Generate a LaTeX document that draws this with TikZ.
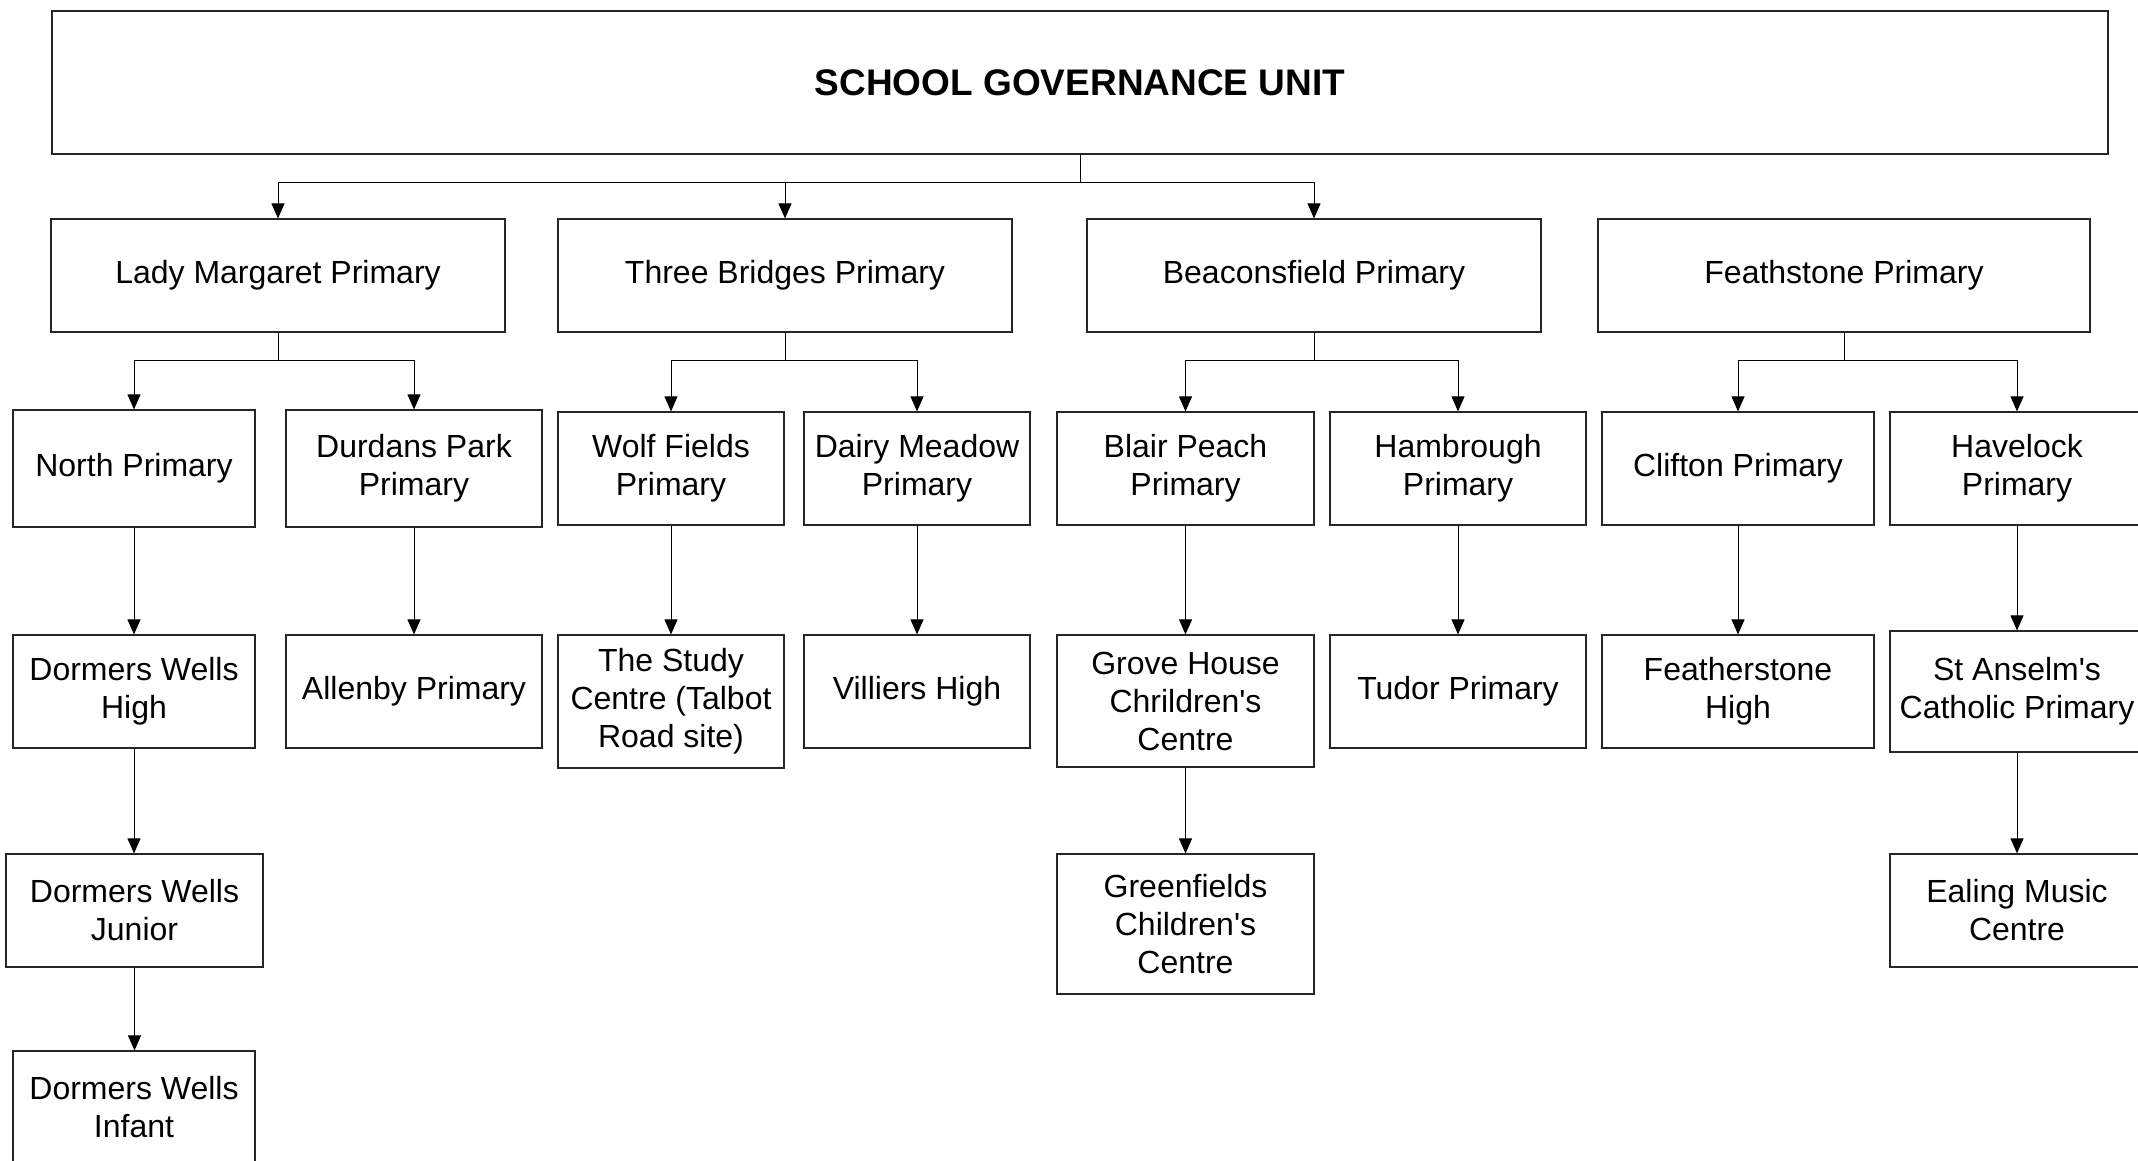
\documentclass[tikz,border=0pt]{standalone}
\usepackage{fontspec}
\setmainfont{Liberation Sans}[Ligatures=TeXOff]
\usetikzlibrary{arrows.meta}
\begin{document}
\begin{tikzpicture}[x=1pt,y=-1pt,
  box/.style={draw=black!85, line width=1.2pt, rectangle, inner sep=0pt, align=center,
    font=\fontsize{32}{38}\selectfont},
  titlebox/.style={box, font=\fontsize{37}{44}\selectfont\bfseries},
  conn/.style={draw=black, line width=1pt},
  arr/.style={conn, -{Triangle[length=15pt,width=13pt]}}]
\useasboundingbox (0,0) rectangle (2138,1161);
\clip (0,0) rectangle (2138,1161);
\fill[white] (0,0) rectangle (2138,1161);
% top
\node[titlebox, minimum width=2056pt, minimum height=143pt] (title) at (1080,82.5) {SCHOOL GOVERNANCE UNIT};
% level 1
\node[box, minimum width=454pt, minimum height=113pt] (lm) at (278,275.5) {Lady Margaret Primary};
\node[box, minimum width=454pt, minimum height=113pt] (tb) at (785,275.5) {Three Bridges Primary};
\node[box, minimum width=454pt, minimum height=113pt] (bc) at (1314,275.5) {Beaconsfield Primary};
\node[box, minimum width=492pt, minimum height=113pt] (fs) at (1844,275.5) {Feathstone Primary};
% level 2
\node[box, minimum width=242pt, minimum height=117pt] (np) at (134,468.5) {North Primary};
\node[box, minimum width=256pt, minimum height=117pt] (dp) at (414,468.5) {Durdans Park\\Primary};
\node[box, minimum width=226pt, minimum height=113pt] (wf) at (671,468.5) {Wolf Fields\\Primary};
\node[box, minimum width=226pt, minimum height=113pt] (dm) at (917,468.5) {Dairy Meadow\\Primary};
\node[box, minimum width=257pt, minimum height=113pt] (bp) at (1185.5,468.5) {Blair Peach\\Primary};
\node[box, minimum width=256pt, minimum height=113pt] (hb) at (1458,468.5) {Hambrough\\Primary};
\node[box, minimum width=272pt, minimum height=113pt] (cl) at (1738,468.5) {Clifton Primary};
\node[box, minimum width=254pt, minimum height=113pt] (hv) at (2017,468.5) {Havelock\\Primary};
% level 3
\node[box, minimum width=242pt, minimum height=113pt] (dwh) at (134,691.5) {Dormers Wells\\High};
\node[box, minimum width=256pt, minimum height=113pt] (al) at (414,691.5) {Allenby Primary};
\node[box, minimum width=226pt, minimum height=133pt] (sc) at (671,701.5) {The Study\\Centre (Talbot\\Road site)};
\node[box, minimum width=226pt, minimum height=113pt] (vh) at (917,691.5) {Villiers High};
\node[box, minimum width=257pt, minimum height=132pt] (gh) at (1185.5,701) {Grove House\\Chrildren's\\Centre};
\node[box, minimum width=256pt, minimum height=113pt] (tp) at (1458,691.5) {Tudor Primary};
\node[box, minimum width=272pt, minimum height=113pt] (fh) at (1738,691.5) {Featherstone\\High};
\node[box, minimum width=254pt, minimum height=121pt] (sa) at (2017,691.5) {St Anselm's\\Catholic Primary};
% level 4
\node[box, minimum width=257pt, minimum height=113pt] (dwj) at (134.5,910.5) {Dormers Wells\\Junior};
\node[box, minimum width=242pt, minimum height=113pt] (dwi) at (134,1107.5) {Dormers Wells\\Infant};
\node[box, minimum width=257pt, minimum height=140pt] (gf) at (1185.5,924) {Greenfields\\Children's\\Centre};
\node[box, minimum width=254pt, minimum height=113pt] (em) at (2017,910.5) {Ealing Music\\Centre};
% connectors top
\coordinate (topbar) at (1080,183);
\draw[conn] (title.south) -- (topbar);
\draw[arr] (topbar) -| (lm.north);
\draw[arr] (topbar) -| (tb.north);
\draw[arr] (topbar) -| (bc.north);
% level 1 -> 2
\coordinate (lmbar) at (278,360);
\coordinate (tbbar) at (785,360);
\coordinate (bcbar) at (1314,360);
\coordinate (fsbar) at (1844,360);
\draw[conn] (lm.south) -- (lmbar);
\draw[conn] (tb.south) -- (tbbar);
\draw[conn] (bc.south) -- (bcbar);
\draw[conn] (fs.south) -- (fsbar);
\draw[arr] (lmbar) -| (np.north);
\draw[arr] (lmbar) -| (dp.north);
\draw[arr] (tbbar) -| (wf.north);
\draw[arr] (tbbar) -| (dm.north);
\draw[arr] (bcbar) -| (bp.north);
\draw[arr] (bcbar) -| (hb.north);
\draw[arr] (fsbar) -| (cl.north);
\draw[arr] (fsbar) -| (hv.north);
% level 2 -> 3
\draw[arr] (np.south) -- (np.south |- dwh.north);
\draw[arr] (dp.south) -- (dp.south |- al.north);
\draw[arr] (wf.south) -- (wf.south |- sc.north);
\draw[arr] (dm.south) -- (dm.south |- vh.north);
\draw[arr] (bp.south) -- (bp.south |- gh.north);
\draw[arr] (hb.south) -- (hb.south |- tp.north);
\draw[arr] (cl.south) -- (cl.south |- fh.north);
\draw[arr] (hv.south) -- (hv.south |- sa.north);
% level 3 -> 4
\draw[arr] (dwh.south) -- (dwh.south |- dwj.north);
\draw[arr] (dwj.south) -- (dwj.south |- dwi.north);
\draw[arr] (gh.south) -- (gh.south |- gf.north);
\draw[arr] (sa.south) -- (sa.south |- em.north);
\end{tikzpicture}
\end{document}
